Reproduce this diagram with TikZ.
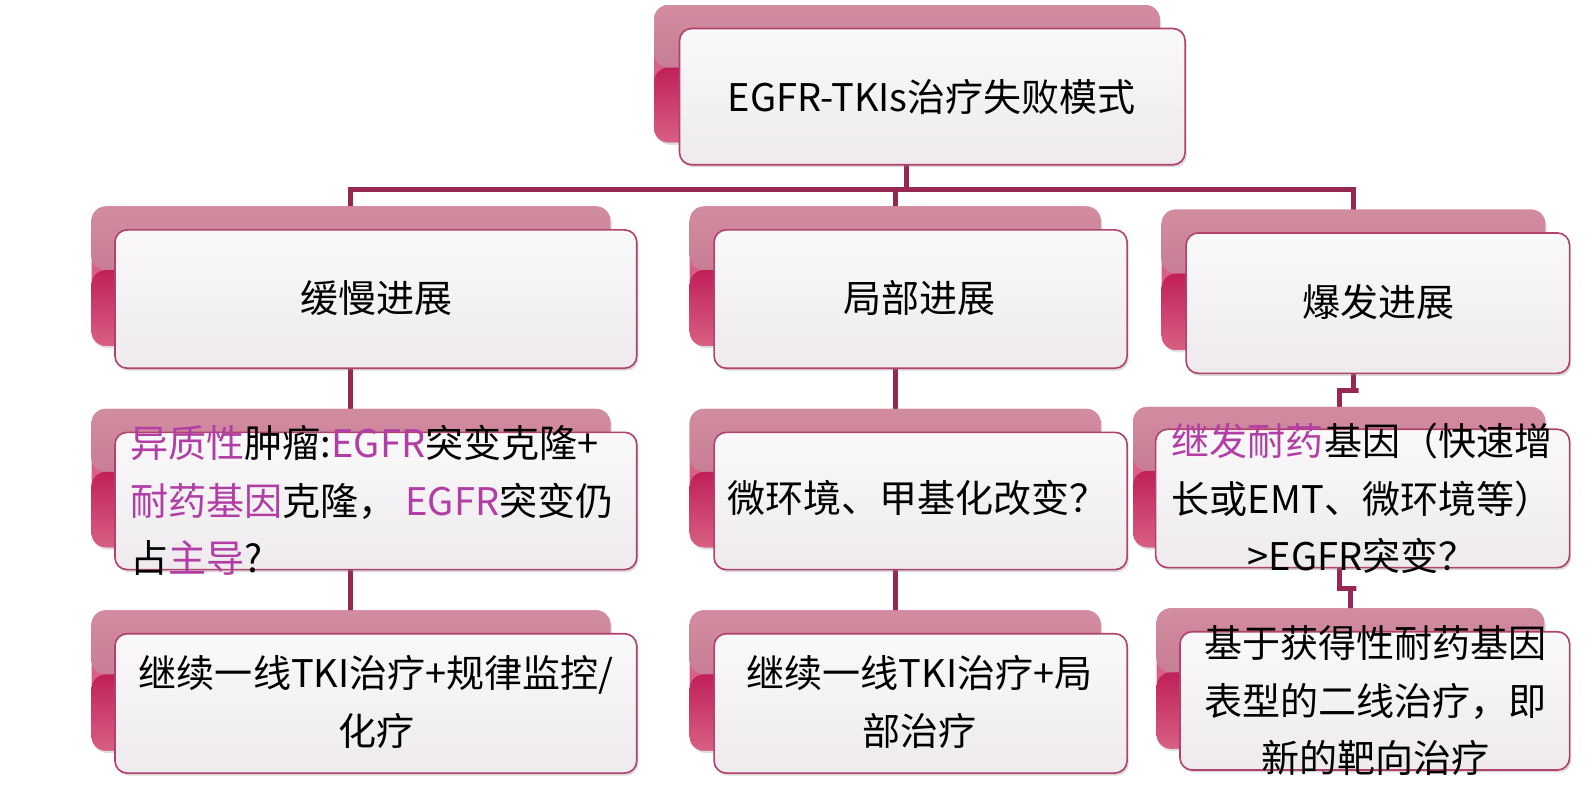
\documentclass[tikz,border=0pt]{standalone}
\usepackage{fontspec}
\setmainfont{Noto Sans CJK SC}
\usetikzlibrary{fit,shadows,calc}
\definecolor{conncol}{RGB}{150,40,82}
\definecolor{tabtop}{RGB}{210,140,160}
\definecolor{tabmid}{RGB}{188,108,134}
\definecolor{tabdeep}{RGB}{192,32,88}
\definecolor{tabbot}{RGB}{216,96,132}
\definecolor{boxedge}{RGB}{176,66,108}
\definecolor{boxtop}{RGB}{250,249,250}
\definecolor{boxbot}{RGB}{238,234,237}
\definecolor{hl}{RGB}{178,62,165}
\pgfdeclarelayer{bg}
\pgfsetlayers{bg,main}
\tikzset{
  connector/.style={draw=conncol, line width=2.5pt},
  tabbox/.style={inner sep=0pt, rounded corners=7pt, fill=tabbot,
    drop shadow={shadow xshift=0.8pt, shadow yshift=-1.2pt, opacity=0.25},
    path picture={
      \shade[top color=tabtop, bottom color=tabmid]
        (path picture bounding box.north west) rectangle ([yshift=3pt]path picture bounding box.east);
      \shade[top color=tabdeep, bottom color=tabbot]
        ([yshift=3pt]path picture bounding box.west) rectangle (path picture bounding box.south east);
    }},
  frontbox/.style={inner sep=0pt, rounded corners=6pt, draw=boxedge, line width=0.8pt,
    top color=boxtop, bottom color=boxbot,
    drop shadow={shadow xshift=0.8pt, shadow yshift=-1.2pt, opacity=0.3}},
  txt/.style={inner sep=0pt, font=\fontsize{18.7}{28.3}\selectfont, align=center}
}
\begin{document}
\begin{tikzpicture}[x=0.5pt,y=-0.5pt]
\useasboundingbox (0,0) rectangle (1568,786);
% back tabs
\node[tabbox, fit={(643,5)(1140,140)}] (t0) {};
\node[tabbox, fit={(90,203)(600,340)}] (t11) {};
\node[tabbox, fit={(678,203)(1082,340)}] (t12) {};
\node[tabbox, fit={(1142,206)(1519,344)}] (t13) {};
\node[tabbox, fit={(90,402)(600,538)}] (t21) {};
\node[tabbox, fit={(678,402)(1082,538)}] (t22) {};
\node[tabbox, fit={(1114,400)(1519,538)}] (t23) {};
\node[tabbox, fit={(90,600)(600,738)}] (t31) {};
\node[tabbox, fit={(678,600)(1082,738)}] (t32) {};
\node[tabbox, fit={(1137,598)(1518,736)}] (t33) {};
% front boxes
\node[frontbox, fit={(668,28)(1165,162)}] (f0) {};
\node[frontbox, fit={(113,226)(626,362)}] (f11) {};
\node[frontbox, fit={(702,226)(1108,362)}] (f12) {};
\node[frontbox, fit={(1166,229)(1543,367)}] (f13) {};
\node[frontbox, fit={(113,425)(626,560)}] (f21) {};
\node[frontbox, fit={(702,425)(1108,560)}] (f22) {};
\node[frontbox, fit={(1136,422)(1543,558)}] (f23) {};
\node[frontbox, fit={(113,623)(626,760)}] (f31) {};
\node[frontbox, fit={(702,623)(1108,760)}] (f32) {};
\node[frontbox, fit={(1160,621)(1543,757)}] (f33) {};
% connectors behind
\begin{pgfonlayer}{bg}
\coordinate (hub) at (886,186);
\draw[connector] (t0.center) -- (t0.center |- hub);
\draw[connector] (t11.center) |- (hub) -| (t13.center);
\draw[connector] (t12.center) -- (t12.center |- hub);
\draw[connector] (t11.center) -- (t21.center);
\draw[connector] (t21.center) -- (t31.center);
\draw[connector] (t12.center) -- (t22.center);
\draw[connector] (t22.center) -- (t32.center);
\draw[connector] (t13.center) |- ($(f13.south)!0.5!(t23.north)$) -| (t23.center);
\draw[connector] (t23.center) |- ($(f23.south)!0.5!(t33.north)$) -| (t33.center);
\end{pgfonlayer}
% texts
\node[txt] (x0) at (916,95) {EGFR-TKIs治疗失败模式};
\node[txt] (x11) at (370,293) {缓慢进展};
\node[txt] (x12) at (904,293) {局部进展};
\node[txt] (x13) at (1355,297) {爆发进展};
\node[txt, align=left, anchor=west] (x21) at (128,492)
  {\textcolor{hl}{异质性}肿瘤:\textcolor{hl}{EGFR}突变克隆+\\\textcolor{hl}{耐药基因}克隆， \textcolor{hl}{EGFR}突变仍\\占\textcolor{hl}{主导}?};
\node[txt] (x22) at (902,490) {微环境、甲基化改变？};
\node[txt] (x23) at (1339,490)
  {\textcolor{hl}{继发耐药}基因（快速增\\长或EMT、微环境等）\\>EGFR突变？};
\node[txt] (x31) at (370,690) {继续一线TKI治疗+规律监控/\\化疗};
\node[txt] (x32) at (904,690) {继续一线TKI治疗+局\\部治疗};
\node[txt] (x33) at (1352,689) {基于获得性耐药基因\\表型的二线治疗，即\\新的靶向治疗};
\end{tikzpicture}
\end{document}
